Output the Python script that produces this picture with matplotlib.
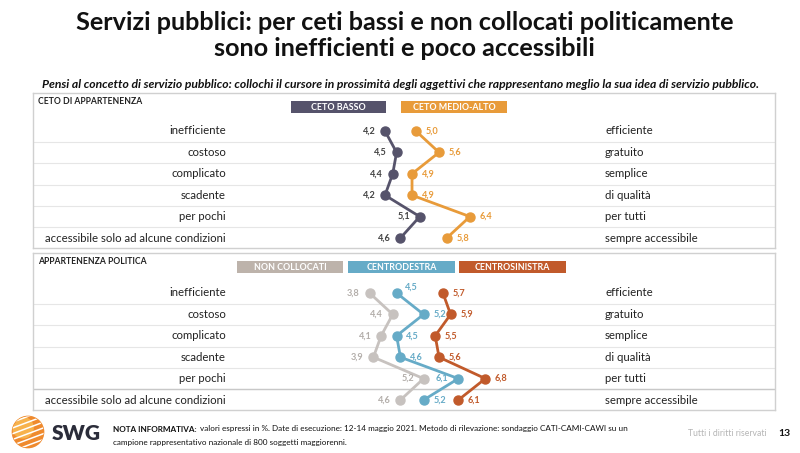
import matplotlib
matplotlib.use("Agg")
import matplotlib.pyplot as plt
from matplotlib.patches import Rectangle, Circle

plt.rcParams["font.family"] = ["Lato", "DejaVu Sans"]

W, H = 800, 453

# ---- data ----
left_labels = ["inefficiente", "costoso", "complicato", "scadente", "per pochi",
               "accessibile solo ad alcune condizioni"]
right_labels = ["efficiente", "gratuito", "semplice", "di qualità", "per tutti",
                "sempre accessibile"]

ceto_basso = [4.2, 4.5, 4.4, 4.2, 5.1, 4.6]
ceto_medio_alto = [5.0, 5.6, 4.9, 4.9, 6.4, 5.8]

non_collocati = [3.8, 4.4, 4.1, 3.9, 5.2, 4.6]
centrodestra = [4.5, 5.2, 4.5, 4.6, 6.1, 5.2]
centrosinistra = [5.7, 5.9, 5.5, 5.6, 6.8, 6.1]

C_BASSO = "#56536b"
C_MEDIO = "#e89b3a"
C_NONCOL = "#c7c2bf"
C_NONCOL_BOX = "#bdb3ab"
C_CDX = "#66abc7"
C_CSX = "#c15a2b"


def fx(x):
    return x / W


def fy(y):
    return 1 - y / H


fig = plt.figure(figsize=(8, 4.53), dpi=100)
fig.patch.set_facecolor("white")

# titles
fig.text(0.506, fy(23), "Servizi pubblici: per ceti bassi e non collocati politicamente",
         ha="center", va="center", fontsize=18.2, fontweight="bold", color="#111111")
fig.text(0.506, fy(49), "sono inefficienti e poco accessibili",
         ha="center", va="center", fontsize=18.2, fontweight="bold", color="#111111")
fig.text(fx(401), fy(84), "Pensi al concetto di servizio pubblico: collochi il cursore in prossimità "
         "degli aggettivi che rappresentano meglio la sua idea di servizio pubblico.",
         ha="center", va="center", fontsize=8.7, fontweight="bold", style="italic",
         color="#111111")

# value -> pixel scale shared by both panels
x0_px, v0, ppu = 385, 4.2, 38.6
box_l, box_r = 33, 775
xmin = v0 + (box_l - x0_px) / ppu
xmax = v0 + (box_r - x0_px) / ppu


def make_panel(top, bottom, row0, header, series, legend):
    ax = fig.add_axes([fx(box_l), fy(bottom), (box_r - box_l) / W, (bottom - top) / H])
    spacing = 21.4
    ax.set_xlim(xmin, xmax)
    ax.set_ylim((bottom - row0) / spacing, -(row0 - top) / spacing)
    ax.set_xticks([])
    ax.set_yticks([])
    for s in ax.spines.values():
        s.set_color("#d0d0d0")
        s.set_linewidth(1.0)
    rows = list(range(len(left_labels)))
    for i in range(len(rows) - 1):
        ax.axhline(i + 0.5, color="#e6e6e6", lw=0.8, zorder=0)
    lx = (226 - box_l) / (box_r - box_l)
    rx = (605 - box_l) / (box_r - box_l)
    for i in rows:
        ax.text(lx, i, left_labels[i], transform=ax.get_yaxis_transform(),
                ha="right", va="center", fontsize=8.2, color="#222222")
        ax.text(rx, i, right_labels[i], transform=ax.get_yaxis_transform(),
                ha="left", va="center", fontsize=8.2, color="#222222")
    ax.text(5 / (box_r - box_l), 1 - 8 / (bottom - top), header, transform=ax.transAxes,
            ha="left", va="center", fontsize=6.2, fontweight="bold", color="#222222")
    for vals, color, tcolor, sides in series:
        ax.plot(vals, rows, color=color, lw=2.0, marker="o", markersize=6.5,
                solid_capstyle="round", zorder=3)
        for i, v in enumerate(vals):
            side = sides[i]
            dx, dy = {"l": (-7, 0), "r": (7, 0), "ur": (6, 4)}[side]
            ax.annotate(f"{v:.1f}".replace(".", ","), (v, i), xytext=(dx, dy),
                        textcoords="offset points", ha="right" if side == "l" else "left",
                        va="center", fontsize=6.6, fontweight="bold", color=tcolor)
    for (l, r, label, color) in legend:
        fig.patches.append(Rectangle((fx(l), fy(top + 20)), (r - l) / W, 12 / H,
                                     transform=fig.transFigure, facecolor=color,
                                     edgecolor="none"))
        fig.text(fx((l + r) / 2), fy(top + 14), label, ha="center", va="center",
                 fontsize=6.4, fontweight="bold", color="white")
    return ax


make_panel(93, 248, 131, "CETO DI APPARTENENZA",
           [(ceto_basso, C_BASSO, "#444444", ["l"] * 6),
            (ceto_medio_alto, C_MEDIO, C_MEDIO, ["r"] * 6)],
           [(291, 386, "CETO BASSO", C_BASSO), (401, 507, "CETO MEDIO-ALTO", C_MEDIO)])

ax2 = make_panel(253, 410, 293, "APPARTENENZA POLITICA",
                 [(non_collocati, C_NONCOL, "#b3aeaa", ["l"] * 6),
                  (centrodestra, C_CDX, C_CDX, ["ur", "r", "r", "r", "l", "r"]),
                  (centrosinistra, C_CSX, C_CSX, ["r"] * 6)],
                 [(237, 343, "NON COLLOCATI", C_NONCOL_BOX), (348, 455, "CENTRODESTRA", C_CDX),
                  (459, 566, "CENTROSINISTRA", C_CSX)])
ax2.axhline(4.5, color="#c8c8c8", lw=1.0, zorder=0)

# logo
lax = fig.add_axes([fx(11), fy(449), 34 / W, 34 / H])
lax.set_xlim(-1, 1)
lax.set_ylim(-1, 1)
lax.set_aspect("equal")
lax.axis("off")
circ = Circle((0, 0), 0.92, color="#ef8a2e")
lax.add_patch(circ)
inner = Circle((-0.3, 0.25), 0.6, color="#f7b24c")
lax.add_patch(inner)
inner.set_clip_path(circ)
for k in range(-3, 4):
    ln, = lax.plot([-1.2, 1.2], [k * 0.34 - 0.55, k * 0.34 + 0.35], color="white", lw=1.1)
    ln.set_clip_path(circ)
fig.text(fx(52), fy(433), "SWG", ha="left", va="center", fontsize=15,
         fontweight="heavy", color="#2b2d3a")

# footer note
fs = 5.85
t_bold = fig.text(fx(113), fy(429), "NOTA INFORMATIVA:", ha="left", va="center",
                  fontsize=fs, fontweight="bold", color="#111111")
fig.canvas.draw()
bb = t_bold.get_window_extent()
fig.text(bb.x1 / W + 3 / W, fy(429), "valori espressi in %. Date di esecuzione: 12-14 maggio 2021. "
         "Metodo di rilevazione: sondaggio CATI-CAMI-CAWI su un",
         ha="left", va="center", fontsize=fs, color="#111111")
fig.text(fx(113), fy(443), "campione rappresentativo nazionale di 800 soggetti maggiorenni.",
         ha="left", va="center", fontsize=fs, color="#111111")
fig.text(fx(767), fy(434), "Tutti i diritti riservati", ha="right", va="center",
         fontsize=6.2, color="#b5b5b5")
fig.text(fx(778), fy(434), "13", ha="left", va="center", fontsize=7.5,
         fontweight="bold", color="#111111")

fig.savefig("out.png", dpi=100, facecolor="white")
